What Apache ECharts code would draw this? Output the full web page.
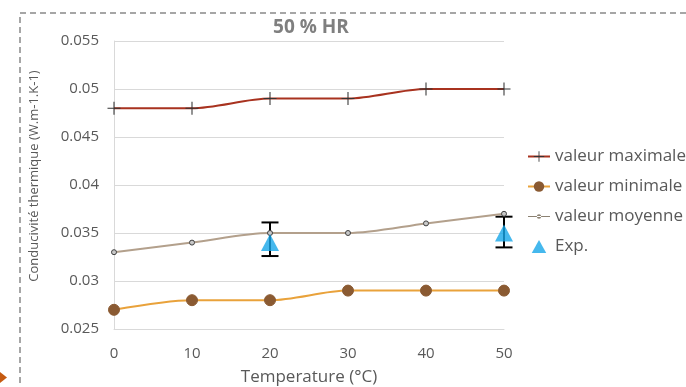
<!DOCTYPE html>
<html>
<head>
<meta charset="utf-8">
<script src="https://cdn.jsdelivr.net/npm/echarts@6/dist/echarts.min.js"></script>
<style>
  html, body { margin: 0; padding: 0; background: #fff; }
  #chart { width: 686px; height: 387px; }
</style>
</head>
<body>
<div id="chart"></div>
<script>
var temperatures = [0, 10, 20, 30, 40, 50];
var valMax = [0.048, 0.048, 0.049, 0.049, 0.050, 0.050];
var valMin = [0.027, 0.028, 0.028, 0.029, 0.029, 0.029];
var valMoy = [0.033, 0.034, 0.035, 0.035, 0.036, 0.037];
var expTemps = [20, 50];
var expVals = [0.034, 0.035];
var expLow = [0.0326, 0.0335];
var expHigh = [0.0361, 0.0367];

function pairs(xs, ys) {
    return xs.map(function (x, i) { return [x, ys[i]]; });
}

var plus = 'path://M4.6,0h0.8v4.6h4.6v0.8h-4.6v4.6h-0.8v-4.6h-4.6v-0.8h4.6z';
// legend icon for the mean series: thin line with a small dot
var moyIcon = 'path://M0,2.6h22v0.9h-22z M11,0.8a2.2,2.2 0 1,0 0.01,0z';
var triIcon = 'path://M5,0L10,9L0,9Z';
var font = 'Open Sans';

var chart = echarts.init(document.getElementById('chart'));
var option = {
    animation: false,
    textStyle: {fontFamily: font},
    title: {
        text: '50 % HR',
        left: 306,
        top: 13,
        textAlign: 'center',
        textStyle: {fontSize: 19, fontWeight: 'bold', color: '#7f7f7f', fontFamily: font}
    },
    grid: {left: 114, right: 182, top: 41, bottom: 58, outerBoundsMode: 'none'},
    legend: {
        orient: 'vertical',
        left: 527,
        top: 148,
        padding: 0,
        itemGap: 13,
        itemWidth: 22,
        itemHeight: 13,
        textStyle: {fontSize: 17, color: '#595959'},
        data: [
            'valeur maximale',
            'valeur minimale',
            {name: 'valeur moyenne', icon: moyIcon, itemStyle: {color: '#8c8273', borderWidth: 0}},
            {name: 'Exp.', icon: triIcon}
        ]
    },
    xAxis: {
        type: 'value',
        min: 0,
        max: 50,
        interval: 10,
        name: 'Temperature (°C)',
        nameLocation: 'middle',
        nameGap: 40,
        nameTextStyle: {fontSize: 17, color: '#595959'},
        axisLine: {lineStyle: {color: '#d9d9d9'}},
        axisTick: {show: false},
        splitLine: {show: false},
        axisLabel: {fontSize: 15, color: '#595959', margin: 17}
    },
    yAxis: {
        type: 'value',
        min: 0.025,
        max: 0.055,
        interval: 0.005,
        name: 'Conducivité thermique (W.m-1.K-1)',
        nameLocation: 'middle',
        nameGap: 73,
        nameTextStyle: {fontSize: 13, color: '#595959', padding: [0, 0, 0, 18]},
        axisLine: {show: true, lineStyle: {color: '#d9d9d9'}},
        axisTick: {show: false},
        splitLine: {lineStyle: {color: '#d9d9d9'}},
        axisLabel: {fontSize: 15, color: '#595959', margin: 15}
    },
    series: [
        {
            name: 'valeur maximale',
            type: 'line',
            smooth: 0.3,
            data: pairs(temperatures, valMax),
            symbol: plus,
            symbolSize: 13,
            lineStyle: {color: '#a8321f', width: 2},
            itemStyle: {color: '#333'}
        },
        {
            name: 'valeur minimale',
            type: 'line',
            smooth: 0.3,
            data: pairs(temperatures, valMin),
            symbol: 'circle',
            symbolSize: 11,
            lineStyle: {color: '#e9a23b', width: 2},
            itemStyle: {color: '#8a5a32', borderColor: '#8a5a32'}
        },
        {
            name: 'valeur moyenne',
            type: 'line',
            smooth: 0.3,
            data: pairs(temperatures, valMoy),
            symbol: 'circle',
            symbolSize: 5,
            lineStyle: {color: '#b3a08c', width: 2},
            itemStyle: {color: '#c8c8c8', borderColor: '#404040', borderWidth: 1}
        },
        {
            name: 'Exp.',
            type: 'scatter',
            data: pairs(expTemps, expVals),
            symbol: 'triangle',
            symbolSize: [18, 17],
            itemStyle: {color: '#17a6e8'},
            z: 4
        },
        {
            name: 'erreur',
            type: 'custom',
            data: expTemps.map(function (t, i) { return [t, expLow[i], expHigh[i]]; }),
            renderItem: function (params, api) {
                var top = api.coord([api.value(0), api.value(2)]);
                var bot = api.coord([api.value(0), api.value(1)]);
                var w = 8.5;
                var st = {stroke: '#000', lineWidth: 2};
                return {
                    type: 'group',
                    children: [
                        {type: 'line', shape: {x1: top[0], y1: top[1], x2: bot[0], y2: bot[1]}, style: st},
                        {type: 'line', shape: {x1: top[0] - w, y1: top[1], x2: top[0] + w, y2: top[1]}, style: st},
                        {type: 'line', shape: {x1: bot[0] - w, y1: bot[1], x2: bot[0] + w, y2: bot[1]}, style: st}
                    ]
                };
            },
            z: 3
        }
    ],
    graphic: [
        {
            type: 'rect',
            shape: {x: 20, y: 13, width: 700, height: 420},
            style: {fill: 'none', stroke: '#a6a6a6', lineWidth: 2, lineDash: [6, 4]},
            silent: true
        },
        {
            type: 'polygon',
            shape: {points: [[0, 372], [7, 377.5], [0, 383]]},
            style: {fill: '#c55a11'},
            silent: true
        }
    ]
};
chart.setOption(option);
</script>
</body>
</html>
